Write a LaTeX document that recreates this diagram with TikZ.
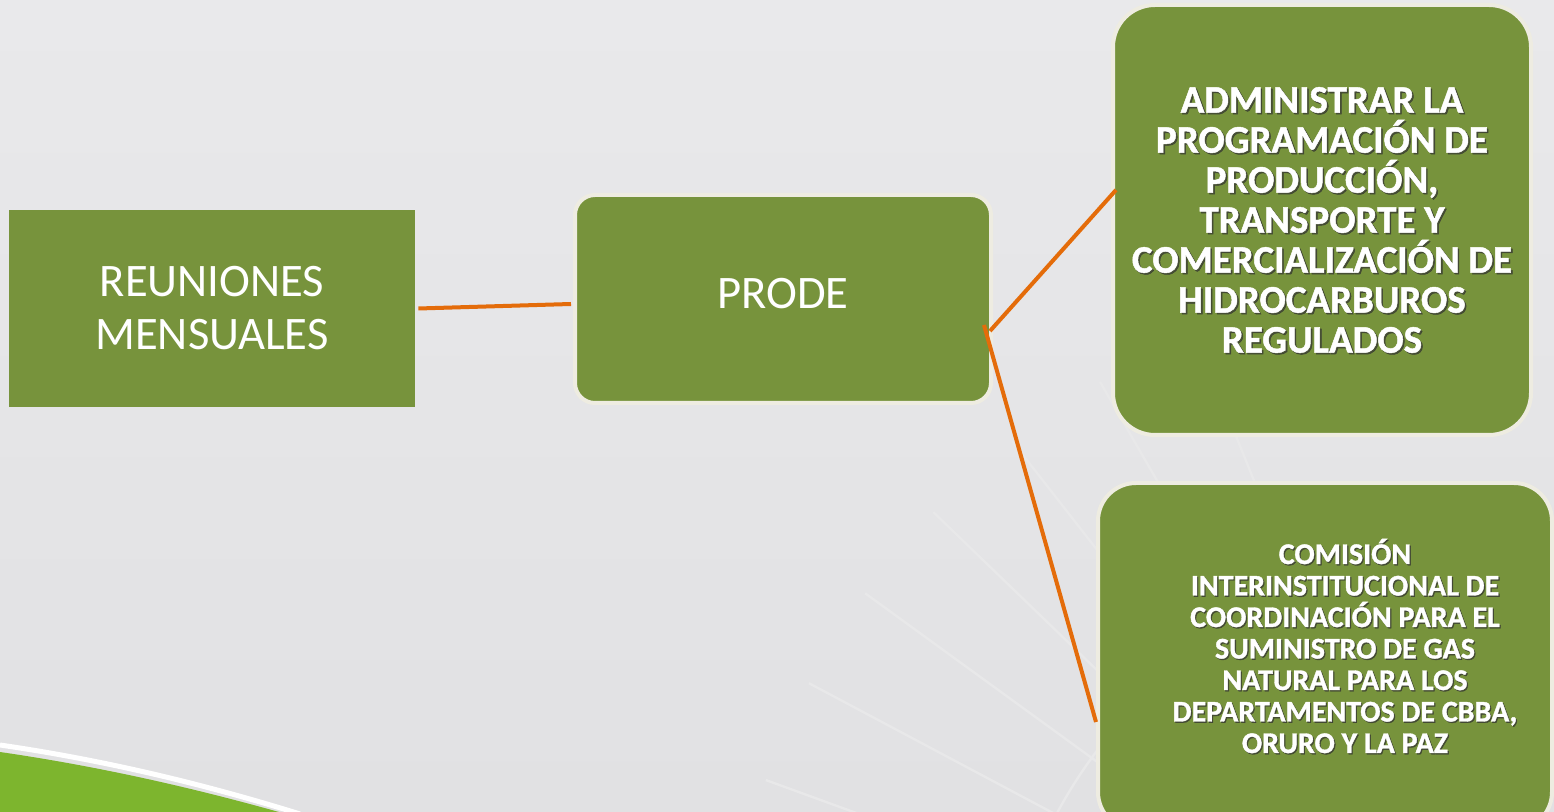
\documentclass[tikz,border=0pt]{standalone}
\usepackage{fontspec}
\setmainfont{Carlito}
\newfontfamily\heavyfont[FakeBold=1.2]{Carlito Bold}
\usetikzlibrary{positioning}
\definecolor{boxgreen}{HTML}{77933C}
\definecolor{boxrim}{HTML}{EEECE1}
\definecolor{linkorange}{HTML}{E46C0A}
\definecolor{slidetop}{HTML}{E9E9EB}
\definecolor{slidebottom}{HTML}{E1E1E3}
\definecolor{fanline}{HTML}{E8E8E9}
\definecolor{swooshgreen}{HTML}{7DB52E}
\tikzset{plainbox/.style={rectangle,draw=none,fill=boxgreen,text=white,
inner sep=0pt,align=center,font=\fontsize{23.3}{26.5}\selectfont}}
\tikzset{roundbox/.style={rectangle,rounded corners=10pt,draw=boxrim,line width=2pt,
fill=boxgreen,text=white,inner sep=0pt,align=center,font=\fontsize{23.3}{26.5}\selectfont}}
\tikzset{boldtext/.style={text=white,inner sep=0pt,align=center,
font=\heavyfont\fontsize{19.5}{20}\selectfont}}
\tikzset{shadowtext/.style={boldtext,text=black!80,opacity=0.7}}
\tikzset{link/.style={draw=linkorange,line width=2pt}}

\begin{document}
\begin{tikzpicture}[x=0.5pt,y=-0.5pt]

    \useasboundingbox (0,0) rectangle (1554,812);
    \clip (0,0) rectangle (1554,812);
    \shade[top color=slidetop, bottom color=slidebottom] (0,0) rectangle (1554,812);

    % faint fan in the background
    \foreach \a in {-168,-160,-152,-144,-136,-128,-120,-112}
        \draw[fanline, line width=1.2pt] ([shift={(1480,1040)}]\a:280) -- ([shift={(1480,1040)}]\a:760);
    \draw[fanline, line width=1.2pt] ([shift={(1480,1040)}]-168:480) arc[start angle=-168, end angle=-110, radius=480];

    % green swoosh, bottom left
    \fill[swooshgreen] (0,752) .. controls (110,768) and (210,792) .. (300,818) -- (0,818) -- cycle;
    \draw[white, line width=2.5pt] (0,745) .. controls (110,761) and (210,786) .. (300,814);

    \node[plainbox, minimum width=203pt, minimum height=98.5pt] (reunion) at (212,308.5) {REUNIONES\\MENSUALES};
    \node[roundbox, minimum width=208pt, minimum height=104pt, text depth=6pt] (prode) at (783,299) {PRODE};

    \node[roundbox, rounded corners=21pt, minimum width=209pt, minimum height=215pt] (admin) at (1322,220) {};
    \node[shadowtext] (adminshadow) at ([xshift=0.8pt,yshift=-0.8pt]admin) {ADMINISTRAR LA\\PROGRAMACIÓN DE\\PRODUCCIÓN,\\TRANSPORTE Y\\COMERCIALIZACIÓN DE\\HIDROCARBUROS\\REGULADOS};
    \node[boldtext] (admintext) at (admin) {ADMINISTRAR LA\\PROGRAMACIÓN DE\\PRODUCCIÓN,\\TRANSPORTE Y\\COMERCIALIZACIÓN DE\\HIDROCARBUROS\\REGULADOS};

    \node[roundbox, rounded corners=19pt, minimum width=227pt, minimum height=173.5pt] (comision) at (1325,656.5) {};
    \node[shadowtext, font=\heavyfont\fontsize{15}{15.75}\selectfont] (comisionshadow) at ([xshift=10.6pt,yshift=4.6pt]comision) {COMISIÓN\\INTERINSTITUCIONAL DE\\COORDINACIÓN PARA EL\\SUMINISTRO DE GAS\\NATURAL PARA LOS\\DEPARTAMENTOS DE CBBA,\\ORURO Y LA PAZ};
    \node[boldtext, font=\heavyfont\fontsize{15}{15.75}\selectfont] (comisiontext) at ([xshift=10pt,yshift=5.25pt]comision) {COMISIÓN\\INTERINSTITUCIONAL DE\\COORDINACIÓN PARA EL\\SUMINISTRO DE GAS\\NATURAL PARA LOS\\DEPARTAMENTOS DE CBBA,\\ORURO Y LA PAZ};

    \coordinate (reunionout) at ([xshift=1.5pt]reunion.east);
    \coordinate (prodein) at ([xshift=-1pt,yshift=-2.5pt]prode.west);
    \coordinate (prodeup) at ([xshift=-1.5pt,yshift=-16pt]prode.east);
    \coordinate (prodedown) at ([xshift=-4.5pt,yshift=-13pt]prode.east);
    \coordinate (adminin) at ([xshift=2.5pt,yshift=15pt]admin.west);
    \coordinate (comisionin) at ([yshift=-32.75pt]comision.west);

    \draw[link] (reunionout) -- (prodein);
    \draw[link] (prodeup) -- (adminin);
    \draw[link] (prodedown) -- (comisionin);

\end{tikzpicture}
\end{document}
